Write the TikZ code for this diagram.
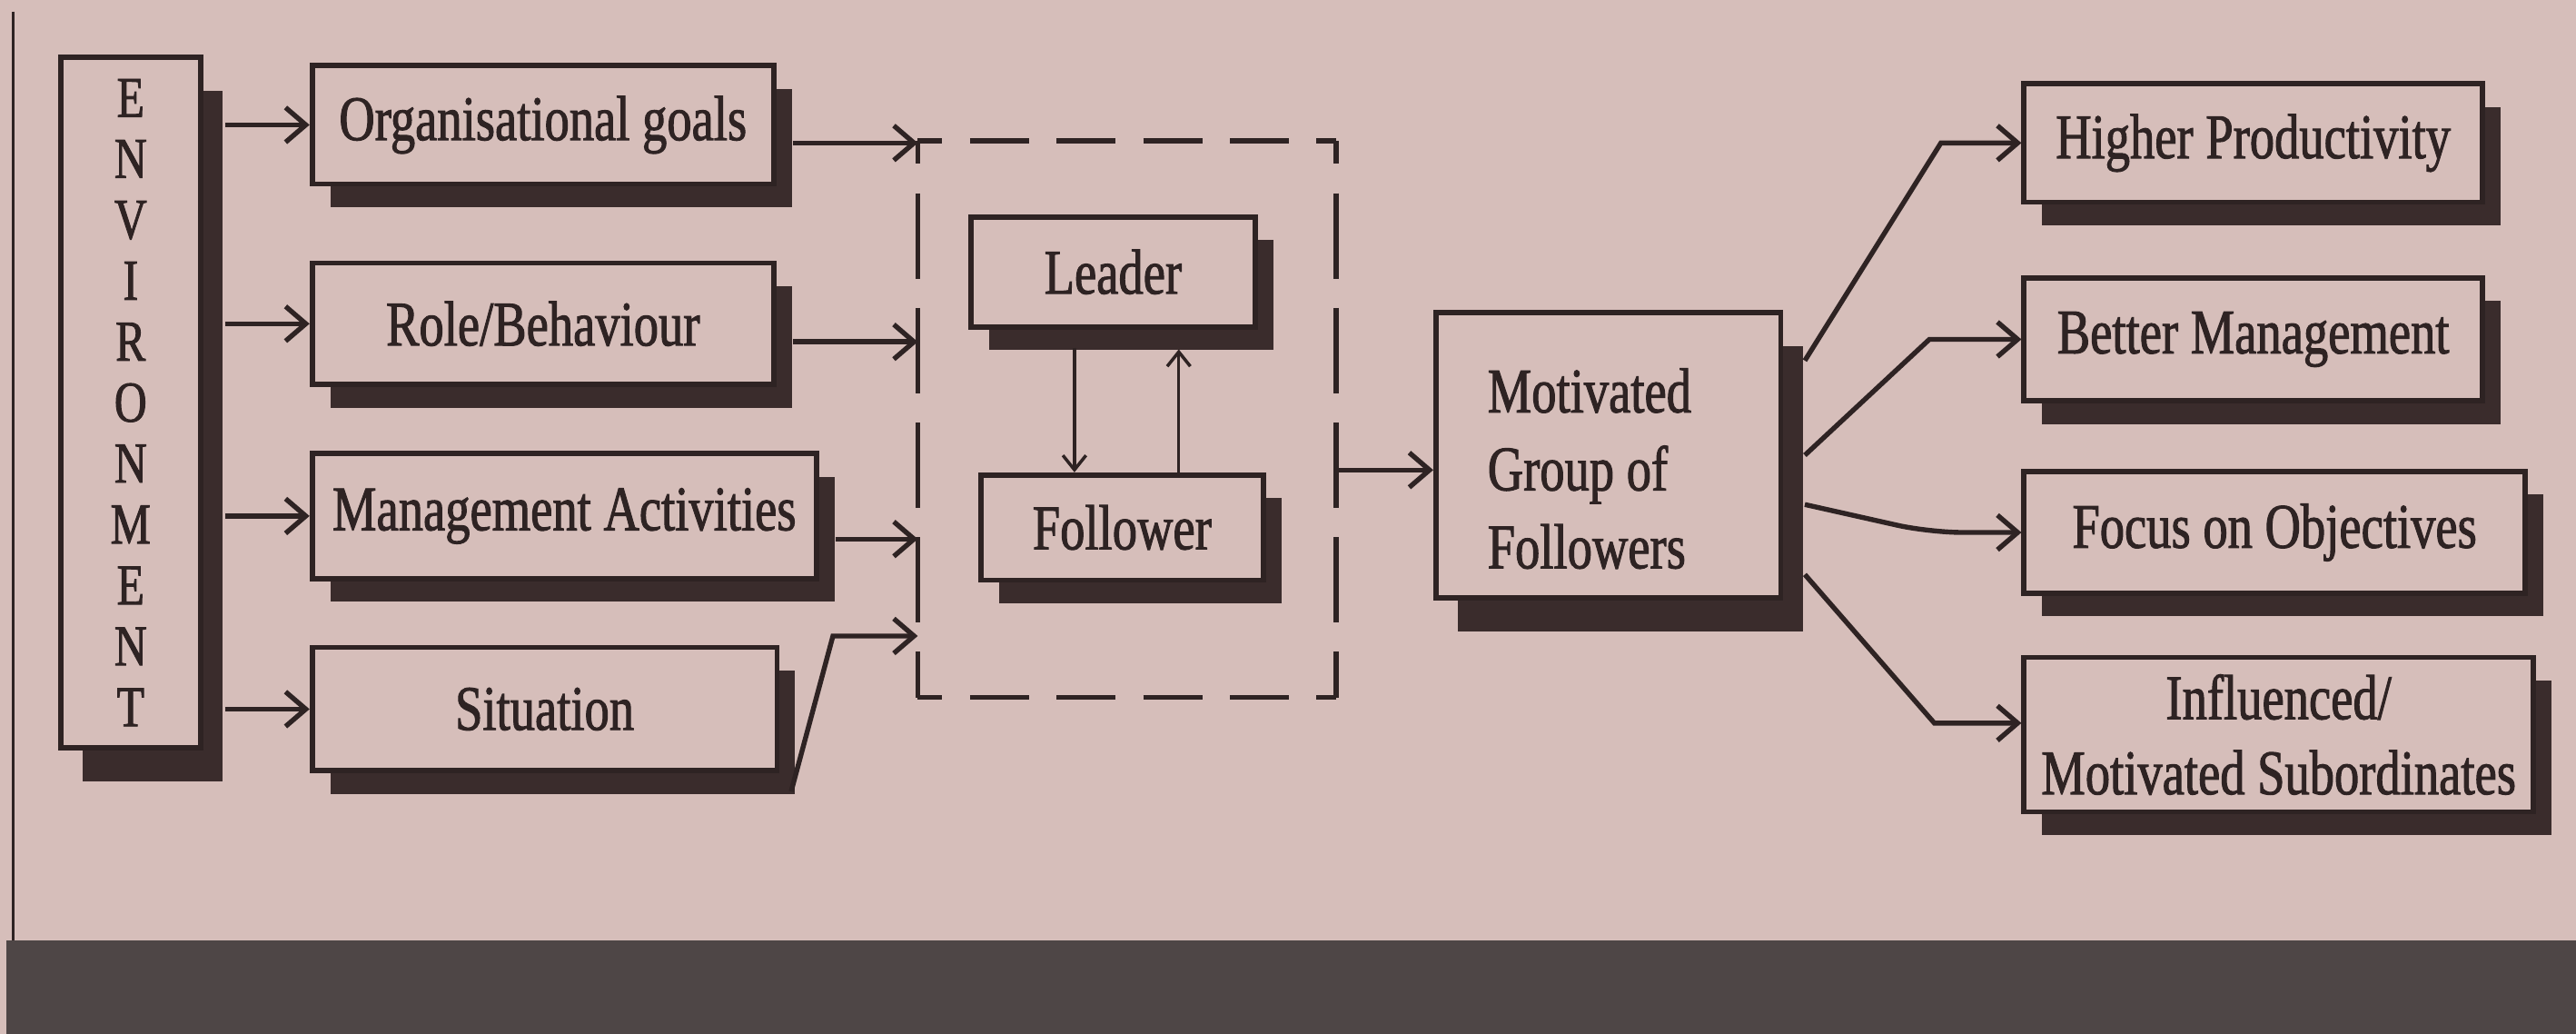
\documentclass[tikz,border=0pt]{standalone}
\usepackage{fontspec}
\setmainfont{Liberation Serif}[FakeStretch=0.78, FakeBold=1.4]
\usetikzlibrary{arrows.meta,shadows}
\definecolor{bgcol}{HTML}{D6BEBA}
\definecolor{inkcol}{HTML}{2E2323}
\definecolor{shcol}{HTML}{3A2C2C}
\definecolor{bandcol}{HTML}{4E4646}
\begin{document}
\begin{tikzpicture}[x=0.2mm, y=-0.2mm,
  base/.style={draw=inkcol, line width=1.8pt, fill=bgcol, inner sep=0pt, text=inkcol, align=center, font=\fontsize{22}{26.5}\selectfont},
  box/.style={base, drop shadow={shadow xshift=2.2mm, shadow yshift=-2.8mm, fill=shcol, opacity=1}},
  bigbox/.style={base, drop shadow={shadow xshift=2.7mm, shadow yshift=-4.1mm, fill=shcol, opacity=1}},
  arr/.style={draw=inkcol, line width=1.7pt, -{Straight Barb[length=7pt,width=12pt]}},
  thinarr/.style={draw=inkcol, line width=1.1pt, -{Straight Barb[length=5pt,width=8pt]}},
  dashh/.style={draw=inkcol, line width=1.7pt, dash pattern=on 20.4pt off 9.6pt, dash phase=11.9pt},
  dashv/.style={draw=inkcol, line width=1.7pt, dash pattern=on 29.5pt off 10.2pt, dash phase=21.5pt}]

\useasboundingbox (0,0) rectangle (1568,629);
\fill[bgcol] (0,0) rectangle (1568,629);
\fill[bandcol] (4,572) rectangle (1568,629);
\draw[inkcol, line width=1pt] (8,7) -- (8,572);

% left column
\node[bigbox, minimum width=17mm, minimum height=84mm, font=\fontsize{20}{21.1}\selectfont] (env) at (79.5,245) {E\\N\\V\\I\\R\\O\\N\\M\\E\\N\\T};
\node[box, minimum width=56.2mm, minimum height=14.4mm] (org) at (330.5,76) {Organisational goals};
\node[box, minimum width=56.2mm, minimum height=14.8mm] (role) at (330.5,197) {Role/Behaviour};
\node[box, minimum width=61.4mm, minimum height=15.2mm] (mgmt) at (343.5,314) {Management Activities};
\node[box, minimum width=56.6mm, minimum height=15mm] (sit) at (331.5,431.5) {Situation};

% group
\node[minimum width=50.8mm, minimum height=67.6mm, inner sep=0pt] (grp) at (686,255) {};
\node[box, minimum width=34.6mm, minimum height=13.4mm] (lead) at (677.5,165.5) {Leader};
\node[box, minimum width=34.4mm, minimum height=12.8mm] (foll) at (683,321) {Follower};

\node[bigbox, minimum width=42mm, minimum height=34.8mm, align=flush left, text width=29.4mm, inner xsep=6.3mm, font=\fontsize{22}{27}\selectfont] (mot) at (979,277) {\rule{0pt}{24.5pt}Motivated\\Group of\\Followers};

% right column
\node[box, minimum width=55.8mm, minimum height=14.4mm] (hp) at (1371.5,87) {Higher Productivity};
\node[box, minimum width=55.8mm, minimum height=15mm] (bm) at (1371.5,206.5) {Better Management};
\node[box, minimum width=61mm, minimum height=14.8mm] (fo) at (1384.5,324) {Focus on Objectives};
\node[box, minimum width=62mm, minimum height=18.8mm, font=\fontsize{22}{26}\selectfont] (inf) at (1387,447) {Influenced/\\Motivated Subordinates};

% dashed group frame
\draw[dashh] (grp.north west) -- (grp.north east);
\draw[dashh] (grp.south west) -- (grp.south east);
\draw[dashv] (grp.north west) -- (grp.south west);
\draw[dashv] (grp.north east) -- (grp.south east);

% environment arrows
\foreach \b in {org,role,mgmt,sit} \draw[arr] ([xshift=2.7mm]env.east |- \b.west) -- (\b.west);

% into group
\coordinate (o1) at ([xshift=2mm,yshift=-2.2mm]org.east);
\draw[arr] (o1) -- (o1 -| grp.west);
\coordinate (r1) at ([xshift=2mm,yshift=-2.2mm]role.east);
\draw[arr] (r1) -- (r1 -| grp.west);
\coordinate (m1) at ([xshift=2mm,yshift=-2.8mm]mgmt.east);
\draw[arr] (m1) -- (m1 -| grp.west);
\coordinate (s1) at ([xshift=1.4mm,yshift=-2.2mm]sit.south east);
\coordinate (s2) at (507,387);
\draw[arr] (s1) -- (s2) -- (s2 -| grp.west);

% leader / follower
\coordinate (lf1) at ([xshift=-4.7mm,yshift=-2.2mm]lead.south);
\draw[thinarr] (lf1) -- (lf1 |- foll.north);
\coordinate (fl0) at ([xshift=8mm,yshift=-2.4mm]lead.south);
\draw[thinarr] (fl0 |- foll.north) -- (fl0);

% group to motivated
\coordinate (g1) at ([yshift=-1.8mm]mot.west);
\draw[arr] (g1 -| grp.east) -- (g1);

% outcomes
\coordinate (a1) at ([xshift=2.6mm,yshift=-6.2mm]mot.north east);
\coordinate (b1) at ([xshift=-9.8mm]hp.west);
\draw[arr] (a1) -- (b1) -- (hp.west);
\coordinate (a2) at ([xshift=2.6mm]mot.east);
\coordinate (b2) at ([xshift=-11.2mm]bm.west);
\draw[arr] (a2) -- (b2) -- (bm.west);
\coordinate (a3) at ([xshift=2.6mm,yshift=-6mm]mot.east);
\coordinate (b3) at ([xshift=-11.2mm]fo.west);
\draw[arr, rounded corners=4mm] (a3) -- (b3) -- (fo.west);
\coordinate (a4) at ([xshift=2.6mm,yshift=3.2mm]mot.south east);
\coordinate (c4) at ([yshift=1.4mm]inf.west);
\coordinate (b4) at ([xshift=-10.6mm]c4);
\draw[arr] (a4) -- (b4) -- (c4);
\end{tikzpicture}
\end{document}
